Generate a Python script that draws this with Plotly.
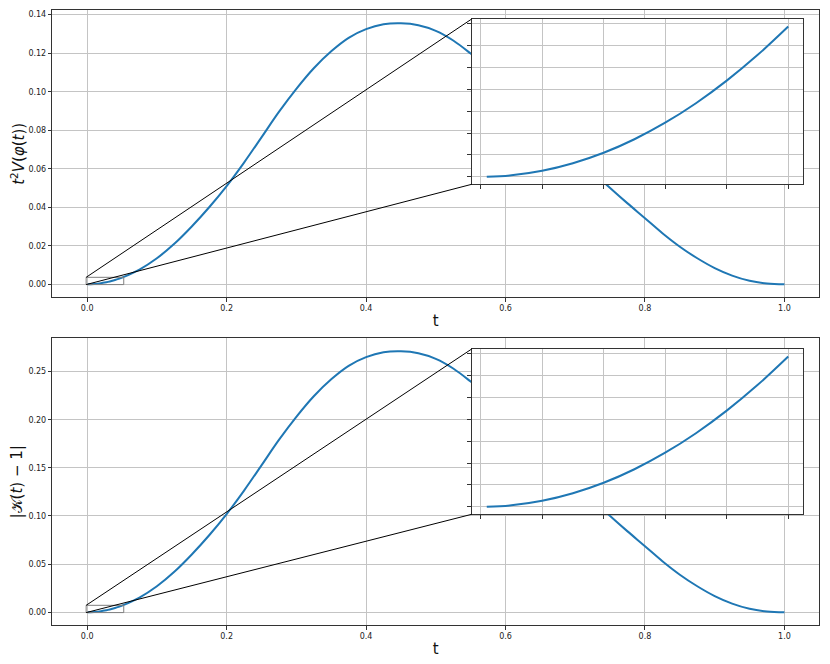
import plotly.graph_objects as go

# ---- data ----
t_vals = [0.001, 0.005, 0.01, 0.015, 0.02, 0.025, 0.03, 0.035, 0.04, 0.045, 0.05,
          0.075, 0.1, 0.125, 0.15, 0.175, 0.2, 0.225, 0.25, 0.275, 0.3, 0.325, 0.35,
          0.375, 0.4, 0.425, 0.45, 0.475, 0.5, 0.525, 0.55, 0.575, 0.6, 0.625, 0.65,
          0.675, 0.7, 0.725, 0.75, 0.775, 0.8, 0.825, 0.85, 0.875, 0.9, 0.925, 0.95,
          0.975, 1.0]
potential_vals = [0.0000014, 0.000034, 0.000137, 0.00031, 0.000549, 0.000858, 0.001235,
                  0.00168, 0.002195, 0.002778, 0.00343,
                  0.00763, 0.0135, 0.0210, 0.0300, 0.0400, 0.0510, 0.0632, 0.0763,
                  0.0895, 0.1015, 0.1122, 0.1210, 0.1280, 0.1325, 0.1350, 0.1355,
                  0.1345, 0.1316, 0.1266, 0.1198, 0.1123, 0.1040, 0.0951, 0.0858,
                  0.0764, 0.0672, 0.0583, 0.0500, 0.0420, 0.0343, 0.0265, 0.0195,
                  0.0135, 0.0084, 0.0045, 0.0018, 0.0004, 0.0]
curvature_vals = [0.0000028, 0.000068, 0.000274, 0.00062, 0.001098, 0.001716, 0.00247,
                  0.00336, 0.00439, 0.005556, 0.00686,
                  0.01526, 0.0270, 0.0420, 0.0600, 0.0800, 0.1020, 0.1264, 0.1526,
                  0.1790, 0.2030, 0.2244, 0.2420, 0.2560, 0.2650, 0.2700, 0.2710,
                  0.2690, 0.2632, 0.2532, 0.2396, 0.2246, 0.2080, 0.1902, 0.1716,
                  0.1528, 0.1344, 0.1166, 0.1000, 0.0840, 0.0686, 0.0530, 0.0390,
                  0.0270, 0.0168, 0.0090, 0.0036, 0.0008, 0.0]
zoom_t_max = 0.05
x_ticks_main = [0.0, 0.2, 0.4, 0.6, 0.8, 1.0]
x_ticks_inset = [0.0, 0.01, 0.02, 0.03, 0.04, 0.05]

BLUE = "#1f77b4"
GRID = "#c4c4c4"
SPINE = "#333333"
WIN_W, WIN_H = 830, 664
OFF = 8  # default page body margin
W, H = WIN_W - OFF, WIN_H - OFF


def px_dom(a, b, total, flip=False):
    a -= OFF
    b -= OFF
    if flip:
        return [1 - b / total, 1 - a / total]
    return [a / total, b / total]


main_x_dom = px_dom(52.3, 819.3, W)
top_y_dom = px_dom(10.3, 297.3, H, flip=True)
bot_y_dom = px_dom(338.3, 625.3, H, flip=True)
inset_x_dom = px_dom(471.7, 803.3, W)
top_inset_y_dom = px_dom(19.0, 184.3, H, flip=True)
bot_inset_y_dom = px_dom(349.0, 514.3, H, flip=True)


def padded(lo, hi, frac=0.05):
    d = (hi - lo) * frac
    return [lo - d, hi + d]


main_x_range = padded(0.0, max(t_vals))
zt = [t for t in t_vals if t <= zoom_t_max + 1e-12]
inset_x_range = padded(zt[0], zt[-1])

fig = go.Figure()

panels = [
    dict(vals=potential_vals, main=("x", "y"), inset=("x3", "y3"),
         ydom=top_y_dom, iydom=top_inset_y_dom,
         title="<i>t</i><sup>2</sup><i>V</i>(<i>φ</i>(<i>t</i>))",
         dtick=0.02, idtick=0.0005),
    dict(vals=curvature_vals, main=("x2", "y2"), inset=("x4", "y4"),
         ydom=bot_y_dom, iydom=bot_inset_y_dom,
         title="|𝒦(<i>t</i>) − 1|",
         dtick=0.05, idtick=0.001),
]

font_tick = dict(family="DejaVu Sans", size=8, color="#222")
font_title = dict(family="DejaVu Sans", size=15, color="#111")

for k, p in enumerate(panels):
    vals = p["vals"]
    zv = vals[:len(zt)]
    yr = padded(min(vals), max(vals))
    iyr = padded(min(zv), max(zv))
    mx, my = p["main"]
    ix, iy = p["inset"]
    fig.add_trace(go.Scatter(x=t_vals, y=vals, mode="lines", xaxis=mx, yaxis=my,
                             line=dict(color=BLUE, width=2, shape="spline",
                                       simplify=False),
                             showlegend=False, hoverinfo="skip"))
    fig.add_trace(go.Scatter(x=zt, y=zv, mode="lines", xaxis=ix, yaxis=iy,
                             line=dict(color=BLUE, width=2, shape="spline",
                                       simplify=False),
                             showlegend=False, hoverinfo="skip"))
    mxname = "xaxis" if mx == "x" else "xaxis" + mx[1:]
    myname = "yaxis" if my == "y" else "yaxis" + my[1:]
    ixname = "xaxis" + ix[1:]
    iyname = "yaxis" + iy[1:]
    common = dict(showline=True, mirror=True, linecolor=SPINE, linewidth=1,
                  showgrid=True, gridcolor=GRID, gridwidth=1, zeroline=False,
                  ticks="outside", ticklen=3.5, tickcolor=SPINE, tickwidth=1,
                  tickfont=font_tick, automargin=False)
    fig.layout[mxname] = dict(common, domain=main_x_dom, range=main_x_range, anchor=my,
                              tickvals=x_ticks_main, tickformat=".1f",
                              title=dict(text="t", font=font_title, standoff=3))
    fig.layout[myname] = dict(common, domain=p["ydom"], range=yr, anchor=mx,
                              dtick=p["dtick"], tick0=0, tickformat=".2f",
                              title=dict(text=p["title"], font=font_title, standoff=8))
    fig.layout[ixname] = dict(common, domain=inset_x_dom, range=inset_x_range, anchor=iy,
                              tickvals=x_ticks_inset, showticklabels=False)
    fig.layout[iyname] = dict(common, domain=p["iydom"], range=iyr, anchor=ix,
                              dtick=p["idtick"], tick0=0, showticklabels=False)

    # zoom rectangle on the main axes
    fig.add_shape(type="rect", xref=mx, yref=my,
                  x0=inset_x_range[0], x1=inset_x_range[1], y0=iyr[0], y1=iyr[1],
                  line=dict(color="#7f7f7f", width=1), layer="above")

    # inset corners expressed in main-axis data coordinates
    def to_data_x(paper_x):
        f = (paper_x - main_x_dom[0]) / (main_x_dom[1] - main_x_dom[0])
        return main_x_range[0] + f * (main_x_range[1] - main_x_range[0])

    def to_data_y(paper_y, dom=p["ydom"], rng=yr):
        f = (paper_y - dom[0]) / (dom[1] - dom[0])
        return rng[0] + f * (rng[1] - rng[0])

    cx = to_data_x(inset_x_dom[0])
    for ycorner, ypaper in ((iyr[1], p["iydom"][1]), (iyr[0], p["iydom"][0])):
        fig.add_shape(type="line", xref=mx, yref=my,
                      x0=inset_x_range[0], y0=ycorner, x1=cx, y1=to_data_y(ypaper),
                      line=dict(color="black", width=1), layer="above")

fig.update_layout(width=W, height=H, margin=dict(l=0, r=0, t=0, b=0),
                  plot_bgcolor="white", paper_bgcolor="white", showlegend=False,
                  font=dict(family="DejaVu Sans"))

fig.write_html("out.html")
